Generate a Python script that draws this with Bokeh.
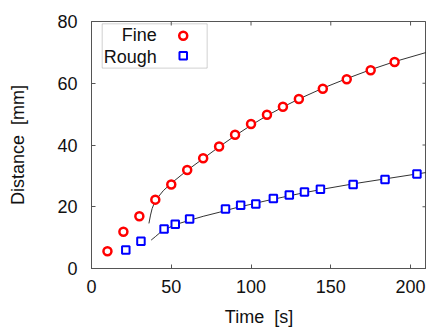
import math
from bokeh.plotting import figure
from bokeh.models import FixedTicker, BoxAnnotation, Label, Range1d
from bokeh.embed import file_html
from bokeh.resources import INLINE

# ---- data ----
fine_t = [10, 20, 30, 40, 50, 60, 70, 80, 90, 100, 110, 120, 130, 145, 160, 175, 190]
fine_d = [5.6, 11.9, 16.9, 22.3, 27.2, 31.9, 35.7, 39.5, 43.3, 46.8, 49.8, 52.4, 54.9, 58.2, 61.3, 64.2, 66.9]
rough_t = [21.5, 31, 45.5, 52.5, 61.5, 84, 93.5, 103, 114, 124, 133.5, 143.5, 164, 184, 204]
rough_d = [6.0, 8.8, 12.8, 14.3, 16.0, 19.3, 20.5, 20.9, 22.7, 23.8, 24.8, 25.7, 27.2, 28.8, 30.6]

fine_fit_t = [36, 37, 38, 40, 45, 50, 60, 70, 80, 90, 100, 110, 120, 130, 145, 160, 175, 190, 210]
fine_fit_d = [14.6, 17.3, 19.4, 22.0, 25.2, 27.6, 31.8, 35.6, 39.4, 43.0, 46.4, 49.5, 52.3, 54.9, 58.4, 61.5, 64.4, 67.0, 70.0]
rough_fit_t = [37.4, 40, 44.3, 50, 55, 62, 70, 80, 90, 100, 110, 120, 130, 145, 165, 185, 210]
rough_fit_d = [9.2, 10.3, 12.2, 13.6, 14.6, 15.7, 16.9, 18.2, 19.6, 20.8, 22.0, 23.1, 24.2, 25.7, 27.5, 29.1, 31.1]

x_ticks = [0, 50, 100, 150, 200]
y_ticks = [0, 20, 40, 60, 80]
series_names = ["Fine", "Rough"]

X_MAX, Y_MAX = 210, 80
FONT = "Liberation Sans"
AX = "#555555"

p = figure(width=426, height=330, output_backend="svg", toolbar_location=None,
           x_range=Range1d(0, X_MAX), y_range=Range1d(0, Y_MAX),
           min_border_left=91, min_border_right=0, min_border_top=21, min_border_bottom=62)
p.grid.visible = False
p.outline_line_color = AX
p.background_fill_color = "white"
p.border_fill_color = "white"

for ax, ticks in ((p.xaxis[0], x_ticks), (p.yaxis[0], y_ticks)):
    ax.ticker = FixedTicker(ticks=ticks)
    ax.axis_line_color = AX
    ax.major_tick_line_color = AX
    ax.major_tick_in = 4
    ax.major_tick_out = 0
    ax.minor_tick_line_color = None
    ax.major_label_text_font = FONT
    ax.major_label_text_font_size = "18px"
    ax.major_label_text_color = "#111111"
    ax.axis_label_text_font = FONT
    ax.axis_label_text_font_size = "18px"
    ax.axis_label_text_font_style = "normal"
    ax.axis_label_text_color = "#111111"

xa = p.xaxis[0]
ya = p.yaxis[0]
xa.axis_label = "Time\u00a0 [s]"
ya.axis_label = "Distance\u00a0 [mm]"
xa.major_label_standoff = 11
xa.axis_label_standoff = 11
ya.major_label_standoff = 14
ya.axis_label_standoff = 26

# mirrored inward ticks on the top and right edges (clipped to the frame)
p.scatter(x_ticks, [Y_MAX] * len(x_ticks), marker="dash", angle=math.pi / 2, size=8,
          line_color=AX, line_width=1)
p.scatter([X_MAX] * len(y_ticks), y_ticks, marker="dash", size=8, line_color=AX, line_width=1)

# fit curves
p.line(fine_fit_t, fine_fit_d, line_color="#333333", line_width=1)
p.line(rough_fit_t, rough_fit_d, line_color="#333333", line_width=1)

# data
p.scatter(fine_t, fine_d, marker="circle", size=8, line_color="red", line_width=2.5, fill_color="white")
p.scatter(rough_t, rough_d, marker="square", size=7.5, line_color="blue", line_width=2, fill_color="white")

# legend (label left, marker right)
p.add_layout(BoxAnnotation(left=6.7, right=72.5, top=79.25, bottom=64.9, level="underlay",
                           fill_color="white", fill_alpha=1, line_color="#666666", line_width=1))
p.scatter([57.5], [75.4], marker="circle", size=8, line_color="red", line_width=2.5, fill_color="white")
p.scatter([57.5], [68.9], marker="square", size=7.5, line_color="blue", line_width=2, fill_color="white")
for name, yy in zip(series_names, [75.5, 68.6]):
    p.add_layout(Label(x=40.9, y=yy, text=name, text_align="right", text_baseline="middle",
                       text_font=FONT, text_font_size="18px", text_color="#111111"))

open("out.html", "w").write(file_html(p, INLINE))
